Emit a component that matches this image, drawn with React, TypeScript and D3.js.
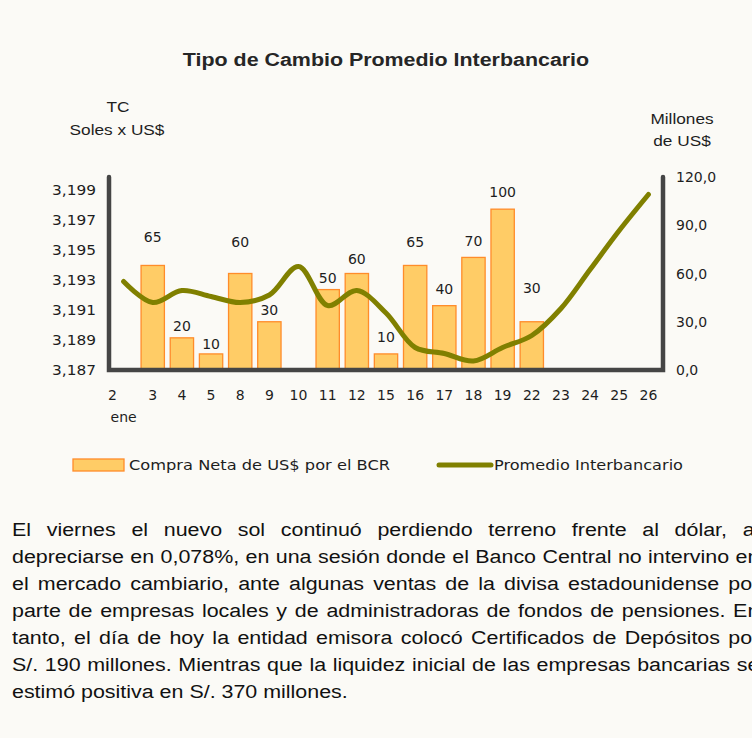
import React from 'react';
import * as d3 from 'd3';

// dias habiles de enero
const days = ['2', '3', '4', '5', '8', '9', '10', '11', '12', '15', '16', '17', '18', '19', '22', '23', '24', '25', '26'];
const monthLabel = 'ene';
// compra neta de US$ por el BCR (millones)
const compraNeta = [null, 65, 20, 10, 60, 30, null, 50, 60, 10, 65, 40, 70, 100, 30, null, null, null, null];
// tipo de cambio promedio interbancario
const tipoCambio = [3.1929, 3.1915, 3.1923, 3.1919, 3.1915, 3.1920, 3.1939, 3.1913, 3.1923, 3.1908, 3.1885, 3.1881, 3.1876, 3.1885, 3.1893, 3.1911, 3.1937, 3.1963, 3.1987];
const leftTicks = [3.187, 3.189, 3.191, 3.193, 3.195, 3.197, 3.199];
const rightTicks = [0, 30, 60, 90, 120];

// how far each value label sits above its bar (px)
const labelGap = [0, 28, 12, 10, 32, 12, 0, 12, 15, 17, 23, 17, 16, 17, 34, 0, 0, 0, 0];

const paragraph = [
  'El viernes el nuevo sol continuó perdiendo terreno frente al dólar, al',
  'depreciarse en 0,078%, en una sesión donde el Banco Central no intervino en',
  'el mercado cambiario, ante algunas ventas de la divisa estadounidense por',
  'parte de empresas locales y de administradoras de fondos de pensiones. En',
  'tanto, el día de hoy la entidad emisora colocó Certificados de Depósitos por',
  'S/. 190 millones. Mientras que la liquidez inicial de las empresas bancarias se',
  'estimó positiva en S/. 370 millones.',
];

const BG = '#FBFAF6';
const AXIS = '#454545';
const TEXT = '#1e1e1e';
const tickFont = '"DejaVu Sans", Verdana, sans-serif';
const arial = '"Liberation Sans", Arial, sans-serif';
// the source picture is stretched sideways
const SX = 1.19;

function Wide(props: { x: number; y: number; anchor?: string; children: React.ReactNode; [k: string]: any }) {
  const { x, y, anchor, children, ...rest } = props;
  return (
    <text transform={`translate(${x},${y}) scale(${SX},1)`} textAnchor={anchor || 'middle'} {...rest}>{children}</text>
  );
}

export default function App() {
  const left = 109, right = 663, bottom = 370, top = 177;

  const x = d3.scaleBand<string>().domain(days).range([left, right]).paddingInner(0).paddingOuter(0);
  const yTC = d3.scaleLinear().domain([3.187, 3.199]).range([bottom, 190]);
  const yM = d3.scaleLinear().domain([0, 120]).range([bottom, top]);
  const bw = x.bandwidth() * 0.8;
  const cx = (d: string) => (x(d) as number) + x.bandwidth() / 2;

  const fmtL = (v: number) => d3.format('.3f')(v).replace('.', ',');
  const fmtR = (v: number) => d3.format('.1f')(v).replace('.', ',');

  const line = d3.line<number>()
    .x((_, i) => cx(days[i]))
    .y(v => yTC(v))
    .curve(d3.curveCatmullRom.alpha(0.5));

  return (
    <div style={{ position: 'absolute', left: 0, top: 0, width: 752, height: 738, overflow: 'hidden', background: BG }}>
      <svg width={752} height={500} style={{ position: 'absolute', left: 0, top: 0 }}>
        <Wide x={386} y={66} fontFamily={arial} fontWeight="bold" fontSize={18} fill="#262626">
          Tipo de Cambio Promedio Interbancario
        </Wide>
        <g fontFamily={arial} fontSize={14.5} fill={TEXT}>
          <Wide x={118} y={112}>TC</Wide>
          <Wide x={117} y={135}>Soles x US$</Wide>
          <Wide x={682} y={124}>Millones</Wide>
          <Wide x={682} y={146}>de US$</Wide>
        </g>

        {/* bars */}
        {days.map((d, i) => compraNeta[i] == null ? null : (
          <rect key={'b' + d} x={cx(d) - bw / 2} y={yM(compraNeta[i] as number)} width={bw}
            height={bottom - yM(compraNeta[i] as number)} fill="#FFCC66" stroke="#FF8C2A" strokeWidth={1.3} />
        ))}

        {/* value labels */}
        <g fontFamily={tickFont} fontSize={14} fill={TEXT} textAnchor="middle">
          {days.map((d, i) => compraNeta[i] == null ? null : (
            <text key={'l' + d} x={cx(d)} y={yM(compraNeta[i] as number) - labelGap[i] + 5}>{compraNeta[i]}</text>
          ))}
        </g>

        {/* line */}
        <path d={line(tipoCambio) || ''} fill="none" stroke="#808000" strokeWidth={5} strokeLinecap="round" strokeLinejoin="round" />

        {/* axes frame */}
        <path d={`M${left},${top} V${bottom} H${right} V${top}`} fill="none" stroke={AXIS} strokeWidth={4.5}
          strokeLinecap="round" strokeLinejoin="miter" />

        <g fontFamily={tickFont} fontSize={14} fill={TEXT}>
          {leftTicks.map(t => (
            <text key={'lt' + t} x={96} y={yTC(t) + 5} textAnchor="end" textLength={44} lengthAdjust="spacingAndGlyphs">{fmtL(t)}</text>
          ))}
          {rightTicks.map(t => (
            <text key={'rt' + t} x={676} y={yM(t) + 5} textAnchor="start">{fmtR(t)}</text>
          ))}
          {days.map((d, i) => (
            <text key={'xt' + d} x={i === 0 ? (x(d) as number) - 1 : cx(d)} y={400} textAnchor={i === 0 ? 'start' : 'middle'}>{d}</text>
          ))}
          <text x={cx(days[0])} y={422} textAnchor="middle">{monthLabel}</text>
        </g>

        {/* legend */}
        <g fontFamily={tickFont} fontSize={14} fill={TEXT}>
          <rect x={73} y={459} width={51} height={12} fill="#FFCC66" stroke="#FF8C2A" strokeWidth={1.3} />
          <text x={129} y={470} textLength={261} lengthAdjust="spacingAndGlyphs">Compra Neta de US$ por el BCR</text>
          <line x1={439} x2={491} y1={465} y2={465} stroke="#808000" strokeWidth={5} strokeLinecap="round" />
          <text x={494} y={470} textLength={189} lengthAdjust="spacingAndGlyphs">Promedio Interbancario</text>
        </g>
      </svg>

      <div style={{
        position: 'absolute', left: 12, top: 517, width: 628, fontFamily: arial, fontSize: 18, lineHeight: '27px',
        color: '#111', transform: `scaleX(${SX})`, transformOrigin: '0 0',
      }}>
        {paragraph.map((p, i) => (
          <div key={i} style={{ textAlign: 'justify', textAlignLast: i === paragraph.length - 1 ? 'left' : 'justify', whiteSpace: 'nowrap' }}>{p}</div>
        ))}
      </div>
    </div>
  );
}
